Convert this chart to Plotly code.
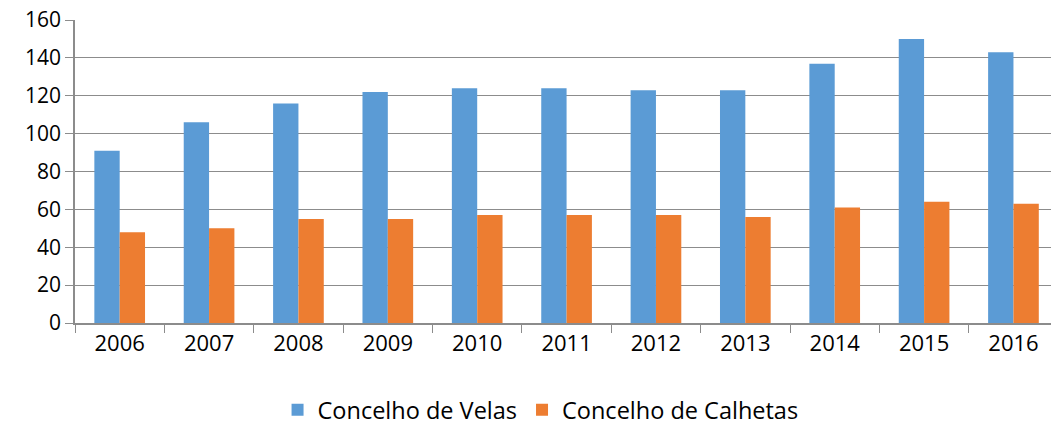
import plotly.graph_objects as go

years = ["2006", "2007", "2008", "2009", "2010", "2011", "2012", "2013", "2014", "2015", "2016"]
velas = [91, 106, 116, 122, 124, 124, 123, 123, 137, 150, 143]
calhetas = [48, 50, 55, 55, 57, 57, 57, 56, 61, 64, 63]
y_ticks = [0, 20, 40, 60, 80, 100, 120, 140, 160]

fig = go.Figure()
fig.add_trace(go.Bar(x=years, y=velas, name="Concelho de Velas",
                     marker=dict(color="#5B9BD5", line=dict(width=0))))
fig.add_trace(go.Bar(x=years, y=calhetas, name="Concelho de Calhetas",
                     marker=dict(color="#ED7D31", line=dict(width=0))))

fig.update_layout(
    width=1051, height=426,
    margin=dict(l=75, r=0, t=20, b=103, autoexpand=False),
    paper_bgcolor="white", plot_bgcolor="white",
    barmode="group", bargap=0.433, bargroupgap=0,
    font=dict(family="Open Sans, sans-serif", size=21, color="#000000"),
    showlegend=True,
    legend=dict(orientation="h", x=0.477, xanchor="center", y=-0.287, yanchor="middle",
                font=dict(size=23.5), itemwidth=30, traceorder="normal"),
    xaxis=dict(type="category", range=[-0.5, 10.42], showgrid=False, automargin=False,
               showline=True, linecolor="#8c8c8c", linewidth=1.5,
               ticks="outside", tickson="boundaries", ticklen=8, tickcolor="#8c8c8c",
               tickfont=dict(size=22)),
    yaxis=dict(range=[0, 160.05], tickvals=y_ticks, showgrid=True, gridcolor="#8c8c8c",
               gridwidth=1, showline=True, linecolor="#8c8c8c", linewidth=1.5,
               automargin=False, ticklabeloverflow="allow",
               ticks="outside", ticklen=8, tickcolor="#8c8c8c", zeroline=False,
               tickfont=dict(size=21)),
)

fig.write_html(
    "out.html",
    config={"displayModeBar": False},
    post_script="document.body.style.margin='0';document.body.style.overflow='hidden';",
)
